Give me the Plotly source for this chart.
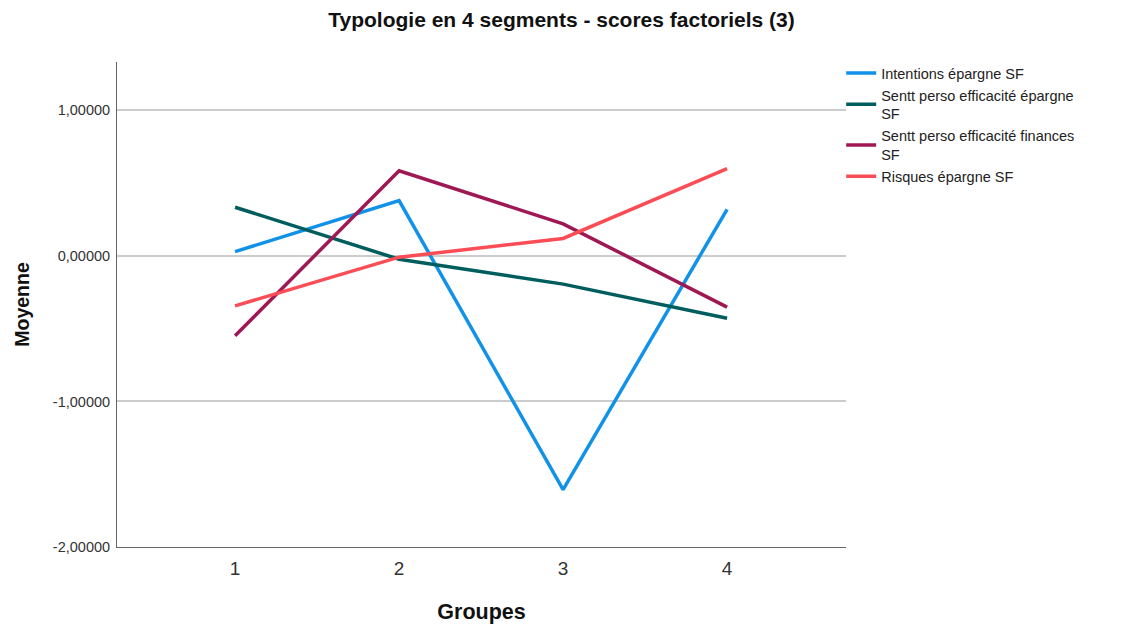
import plotly.graph_objects as go

groupes = [1, 2, 3, 4]
intentions_epargne = [0.029, 0.38, -1.606, 0.32]
sentt_epargne = [0.334, -0.023, -0.194, -0.428]
sentt_finances = [-0.549, 0.585, 0.22, -0.352]
risques_epargne = [-0.343, -0.009, 0.12, 0.60]

series_names = [
    "Intentions épargne SF",
    "Sentt perso efficacité épargne<br>SF",
    "Sentt perso efficacité finances<br>SF",
    "Risques épargne SF",
]
series_values = [intentions_epargne, sentt_epargne, sentt_finances, risques_epargne]
colors = ["#1192e8", "#005d5d", "#9f1853", "#fa4d56"]

y_ticks = [-2, -1, 0, 1]
y_ticktext = [f"{v:.5f}".replace(".", ",") for v in y_ticks]

fig = go.Figure()
for name, vals, col in zip(series_names, series_values, colors):
    fig.add_trace(go.Scatter(x=groupes, y=vals, mode="lines", name=name,
                             line=dict(color=col, width=3.5)))

fig.update_layout(
    width=1124, height=626,
    paper_bgcolor="white", plot_bgcolor="white",
    font=dict(family="Liberation Sans, Arial, sans-serif", color="#222222"),
    margin=dict(l=109, r=286, t=54, b=87),
    title=dict(text="<b>Typologie en 4 segments - scores factoriels (3)</b>",
               x=0.4924, xanchor="center", y=0.981, yanchor="middle",
               font=dict(size=21, color="#111111")),
    showlegend=True,
    legend=dict(x=0.9934, xanchor="left", y=1.01, yanchor="top",
                font=dict(size=14.5, color="#222222"), tracegroupgap=0,
                itemwidth=30, bgcolor="rgba(0,0,0,0)"),
    xaxis=dict(range=[0.28, 4.725], tickvals=groupes, ticktext=[str(g) for g in groupes],
               showgrid=False, zeroline=False, showline=True, linecolor="#666666",
               linewidth=1, ticks="", ticklabelstandoff=4,
               tickfont=dict(size=19, color="#333333"),
               title=dict(text="<b>Groupes</b>", font=dict(size=21.5, color="#111111"),
                          standoff=26)),
    yaxis=dict(range=[-2, 1.332], tickvals=y_ticks, ticktext=y_ticktext,
               showgrid=True, gridcolor="#cccccc", gridwidth=1.5, zeroline=False,
               showline=True, linecolor="#666666", linewidth=1, ticks="",
               ticklabelstandoff=3,
               tickfont=dict(size=14.5, color="#333333"),
               title=dict(text="<b>Moyenne</b>", font=dict(size=19.5, color="#111111"),
                          standoff=18)),
)

fig.write_html("out.html")
